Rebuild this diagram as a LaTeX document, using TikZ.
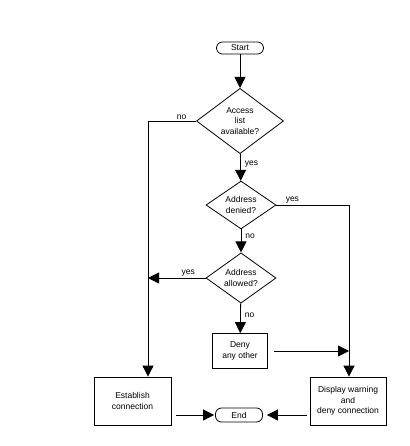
\documentclass[tikz,border=0pt]{standalone}
\usepackage{fontspec}
\setmainfont{Liberation Sans}
\usetikzlibrary{arrows.meta,shapes.geometric}

\begin{document}
\begin{tikzpicture}[x=1pt, y=-1pt, >={Triangle[length=11pt,width=11pt]},
  line width=0.8pt,
  txt/.style={font=\fontsize{8.5}{10.5}\selectfont, align=center},
  term/.style={txt, draw, rounded corners=6pt, minimum width=47pt, inner sep=0pt},
  decision/.style={txt, draw, diamond, inner sep=0pt},
  procbox/.style={txt, draw, rectangle, inner sep=0pt},
  lbl/.style={font=\fontsize{8.5}{10}\selectfont, inner sep=1pt}]
  \useasboundingbox (0,0) rectangle (409,446);
  \node[term, minimum height=12pt] (start) at (240,48) {Start};
  \node[decision, minimum width=87pt, minimum height=64pt] (avail) at (240,121)
    {Access\\list\\available?};
  \node[decision, minimum width=70pt, minimum height=44pt] (denied) at (241,205)
    {Address\\denied?};
  \node[decision, minimum width=70pt, minimum height=42pt] (allowed) at (241,278)
    {Address\\allowed?};
  \node[procbox, minimum width=55pt, minimum height=35pt] (deny) at (240,351)
    {Deny\\any other};
  \node[procbox, minimum width=77pt, minimum height=48pt] (establish) at (132.5,401)
    {Establish\\connection};
  \node[procbox, minimum width=76pt, minimum height=48pt] (display) at (348,401)
    {Display warning\\and\\deny connection};
  \node[term, minimum height=14pt] (end) at (239,415) {End};
  \coordinate (left) at (148,121);
  \coordinate (right) at (349,205);

  \draw[->] (start) -- (avail);
  \draw[->] (avail.west) -- node[lbl, above, pos=0.3] {no} (left) -- (left |- establish.north);
  \draw[->] (avail) -- node[lbl, right, pos=0.4, xshift=3pt] {yes} (denied);
  \draw[->] (denied.east) -- node[lbl, above, pos=0.22] {yes} (right) -- (right |- display.north);
  \draw[->] (denied) -- node[lbl, right, pos=0.3, xshift=3pt] {no} (allowed);
  \draw[->] (allowed.west) -- node[lbl, above, pos=0.3] {yes} (left |- allowed.west);
  \draw[->] (allowed) -- node[lbl, right, pos=0.4, xshift=3pt] {no} (deny);
  \draw[->, shorten <=6pt] (deny.east) -- (right |- deny.east);
  \draw[->, shorten <=5pt, shorten >=1pt] (establish.east |- end) -- (end.west);
  \draw[->, shorten <=3pt, shorten >=4pt] (display.west |- end) -- (end.east);
\end{tikzpicture}
\end{document}
